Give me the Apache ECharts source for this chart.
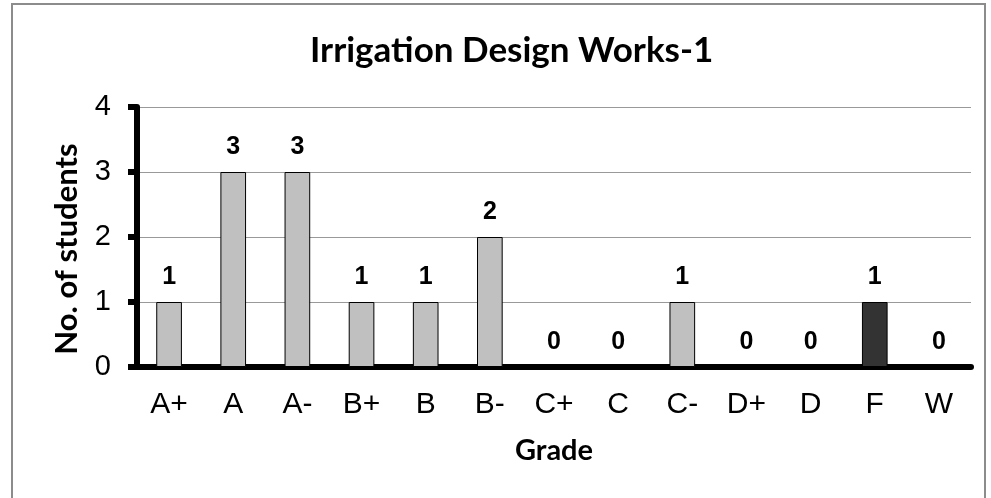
<!DOCTYPE html>
<html>
<head>
<meta charset="utf-8">
<script src="https://cdn.jsdelivr.net/npm/echarts@6/dist/echarts.min.js"></script>
<style>
  html, body { margin: 0; padding: 0; background: #fff; }
  #chart { width: 991px; height: 498px; }
</style>
</head>
<body>
<div id="chart"></div>
<script>
// grades and student counts
const grades = ['A+', 'A', 'A-', 'B+', 'B', 'B-', 'C+', 'C', 'C-', 'D+', 'D', 'F', 'W']
const counts = [1, 3, 3, 1, 1, 2, 0, 0, 1, 0, 0, 1, 0]
const yTicks = [0, 1, 2, 3, 4]
const failGrade = 'F'

const myChart = echarts.init(document.getElementById('chart'))

const barData = grades.map((g, i) => ({
  value: counts[i],
  itemStyle: { color: g === failGrade ? '#333333' : '#c0c0c0' }
}))

const option = {
  backgroundColor: '#fff',
  animation: false,
  title: {
    text: 'Irrigation Design Works-1',
    left: 305,
    top: 28,
    textStyle: { fontFamily: 'Lato', fontSize: 35, fontWeight: 'bold', color: '#000' }
  },
  graphic: [{
    type: 'rect',
    shape: { x: 12, y: 4, width: 973, height: 520 },
    style: { fill: 'none', stroke: '#8c8c8c', lineWidth: 2 },
    silent: true
  }],
  grid: { left: 137, right: 20, top: 107, bottom: 131 },
  xAxis: {
    type: 'category',
    data: grades,
    name: 'Grade',
    nameLocation: 'middle',
    nameGap: 69,
    nameTextStyle: { fontFamily: 'Lato', fontSize: 29, fontWeight: 'bold', color: '#000' },
    axisLine: { lineStyle: { color: '#000', width: 6 } },
    axisTick: { length: 9, lineStyle: { color: '#000', width: 6 } },
    axisLabel: { fontFamily: 'Liberation Sans', fontSize: 30, color: '#000', margin: 23 }
  },
  yAxis: {
    type: 'value',
    min: yTicks[0],
    max: yTicks[yTicks.length - 1],
    interval: 1,
    name: 'No. of students',
    nameLocation: 'middle',
    nameGap: 55,
    nameTextStyle: { fontFamily: 'Lato', fontSize: 31, fontWeight: 'bold', color: '#000', padding: [0, 24, 0, 0] },
    axisLine: { show: true, lineStyle: { color: '#000', width: 6 } },
    axisTick: { show: true, length: 9, lineStyle: { color: '#000', width: 6 } },
    axisLabel: { fontFamily: 'Liberation Sans', fontSize: 29, color: '#000', margin: 26 },
    splitLine: { lineStyle: { color: '#999', width: 1 } }
  },
  series: [{
    type: 'bar',
    data: barData,
    barWidth: '40%',
    itemStyle: { borderColor: '#000', borderWidth: 1 },
    label: {
      show: true,
      position: 'top',
      distance: 12,
      fontFamily: 'Liberation Sans',
      fontSize: 25,
      fontWeight: 'bold',
      color: '#000'
    }
  }]
}

myChart.setOption(option)
</script>
</body>
</html>
